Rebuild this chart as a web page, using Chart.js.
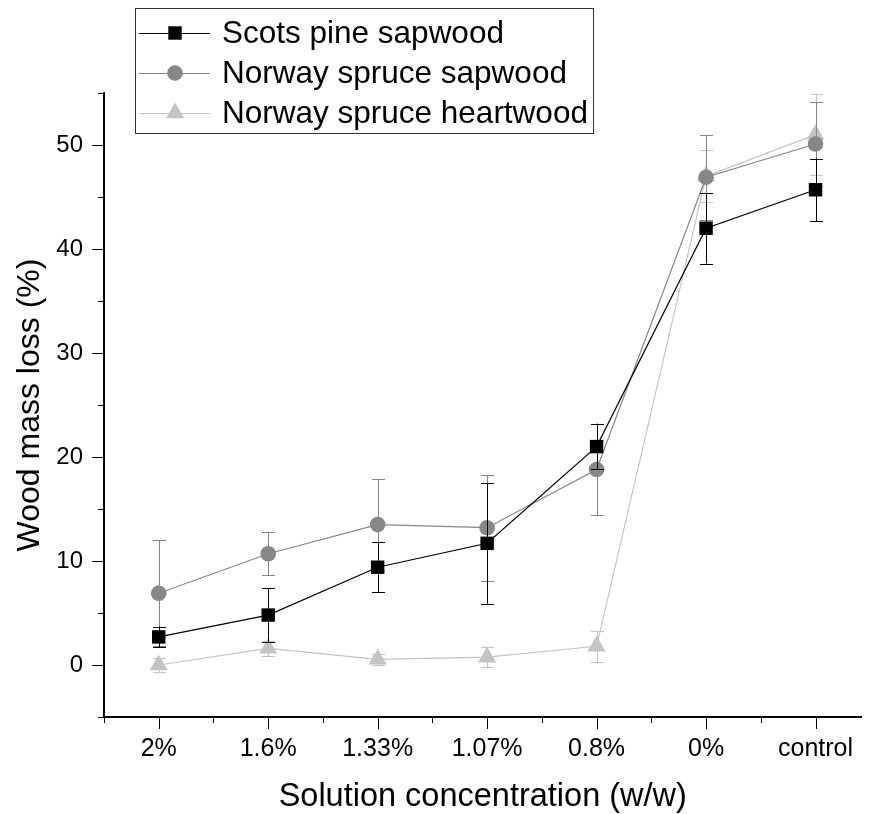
<!DOCTYPE html>
<html>
<head>
<meta charset="utf-8">
<title>Wood mass loss</title>
<script src="https://cdn.jsdelivr.net/npm/chart.js@4/dist/chart.umd.min.js"></script>
<style>
  html, body { margin:0; padding:0; background:#fff; }
  #wrap { width:872px; height:814px; }
</style>
</head>
<body>
<div id="wrap"><canvas id="massChart" width="872" height="814"></canvas></div>
<script>
// data
const categories = ['2%', '1.6%', '1.33%', '1.07%', '0.8%', '0%', 'control'];
const seriesNames = ['Scots pine sapwood', 'Norway spruce sapwood', 'Norway spruce heartwood'];
const scotsPine      = [2.7, 4.8, 9.4, 11.7, 21.0, 42.0, 45.7];
const scotsPineErr   = [1.0, 2.6, 2.4, 5.8, 2.2, 3.4, 3.0];
const spruceSap      = [6.9, 10.7, 13.5, 13.2, 18.8, 46.9, 50.1];
const spruceSapErr   = [5.1, 2.05, 4.35, 5.1, 4.4, 4.1, 4.0];
const spruceHeart    = [0.0, 1.6, 0.55, 0.75, 1.8, 47.0, 51.0];
const spruceHeartErr = [0.7, 0.75, 0.55, 0.95, 1.5, 2.5, 3.9];
const yTicks = [0, 10, 20, 30, 40, 50];

(() => {
  const FONT = "'Liberation Sans', Arial, sans-serif";
  const ctx = document.getElementById('massChart').getContext('2d');

  // series styles: black squares, grey circles, light grey triangles
  const styles = [
    { color: '#000000', point: 'rect',     radius: 9.5 },
    { color: '#878787', point: 'circle',   radius: 7.8 },
    { color: '#c4c4c4', point: 'triangle', radius: 10.5 }
  ];
  const values = [scotsPine, spruceSap, spruceHeart];
  const errors = [scotsPineErr, spruceSapErr, spruceHeartErr];

  const datasets = values.map((vals, k) => ({
    label: seriesNames[k],
    data: vals.map((v, i) => ({ x: i, y: v })),
    errors: errors[k],
    borderColor: styles[k].color,
    backgroundColor: styles[k].color,
    borderWidth: 1.2,
    pointStyle: styles[k].point,
    pointRadius: styles[k].radius,
    pointBorderWidth: 0,
    pointBackgroundColor: styles[k].color,
    tension: 0,
    clip: false
  }));

  // error bars, drawn under each series' own markers
  const errorBars = {
    id: 'errorBars',
    beforeDatasetDraw(chart, args) {
      const ds = chart.data.datasets[args.index];
      const xs = chart.scales.x, ys = chart.scales.y;
      const c = chart.ctx;
      c.save();
      c.strokeStyle = ds.borderColor;
      c.lineWidth = 1;
      ds.data.forEach((p, i) => {
        const e = ds.errors[i];
        const x = Math.round(xs.getPixelForValue(p.x)) + 0.5;
        const y1 = ys.getPixelForValue(p.y + e);
        const y2 = ys.getPixelForValue(p.y - e);
        c.beginPath();
        c.moveTo(x, y1); c.lineTo(x, y2);
        c.moveTo(x - 6.5, Math.round(y1) + 0.5); c.lineTo(x + 6.5, Math.round(y1) + 0.5);
        c.moveTo(x - 6.5, Math.round(y2) + 0.5); c.lineTo(x + 6.5, Math.round(y2) + 0.5);
        c.stroke();
      });
      c.restore();
    }
  };

  // outward tick marks, major and minor
  const tickMarks = {
    id: 'tickMarks',
    afterDraw(chart) {
      const xs = chart.scales.x, ys = chart.scales.y;
      const area = chart.chartArea;
      const c = chart.ctx;
      c.save();
      c.strokeStyle = '#000';
      c.lineWidth = 1;
      c.beginPath();
      for (let v = -5; v <= 55; v += 5) {
        const y = Math.round(ys.getPixelForValue(v)) + 0.5;
        const len = v % 10 === 0 ? 12 : 6;
        c.moveTo(area.left - len, y); c.lineTo(area.left, y);
      }
      for (let v = -0.5; v <= xs.max; v += 0.5) {
        const x = Math.round(xs.getPixelForValue(v)) + 0.5;
        const len = Number.isInteger(v) ? 12 : 6;
        c.moveTo(x, area.bottom); c.lineTo(x, area.bottom + len);
      }
      c.stroke();
      c.restore();
    }
  };

  // boxed legend at the top left, overlapping the plot
  const boxLegend = {
    id: 'boxLegend',
    afterDraw(chart) {
      const c = chart.ctx;
      c.save();
      c.strokeStyle = '#333';
      c.lineWidth = 1;
      c.strokeRect(135.5, 8.5, 458, 125);
      chart.data.datasets.forEach((ds, k) => {
        const y = 33 + k * 40;
        c.strokeStyle = ds.borderColor;
        c.lineWidth = 1;
        c.beginPath();
        c.moveTo(139, y + 0.5); c.lineTo(210, y + 0.5);
        c.stroke();
        c.fillStyle = ds.pointBackgroundColor;
        Chart.helpers.drawPoint(c, { pointStyle: ds.pointStyle, radius: ds.pointRadius, rotation: 0, borderWidth: 0 }, 175, y);
        c.fillStyle = '#000';
        c.font = '31.5px ' + FONT;
        c.textBaseline = 'middle';
        c.textAlign = 'left';
        c.fillText(ds.label, 222, y + 1);
      });
      c.restore();
    }
  };

  new Chart(ctx, {
    type: 'line',
    data: { datasets },
    options: {
      animation: false,
      responsive: false,
      devicePixelRatio: 1,
      layout: { padding: { top: 93, right: 2, left: 0, bottom: 0 } },
      plugins: { legend: { display: false }, tooltip: { enabled: false } },
      scales: {
        x: {
          type: 'linear',
          min: -0.5,
          max: 6.42,
          afterBuildTicks: scale => { scale.ticks = categories.map((c, i) => ({ value: i })); },
          afterFit: scale => { scale.height = 97; },
          grid: { display: false, drawTicks: false },
          border: { display: true, color: '#000', width: 2 },
          ticks: {
            autoSkip: false, maxRotation: 0, padding: 17, color: '#000',
            font: { family: FONT, size: 25 },
            callback: v => categories[v]
          },
          title: {
            display: true, text: 'Solution concentration (w/w)', color: '#000',
            font: { family: FONT, size: 32.5, lineHeight: 1.05 }, padding: 0
          }
        },
        y: {
          min: -5,
          max: 55,
          afterBuildTicks: scale => { scale.ticks = yTicks.map(v => ({ value: v })); },
          afterFit: scale => { scale.width = 104; },
          grid: { display: false, drawTicks: false },
          border: { display: true, color: '#000', width: 2 },
          ticks: { padding: 21, color: '#000', font: { family: FONT, size: 24 } },
          title: {
            display: true, text: 'Wood mass loss (%)', color: '#000',
            font: { family: FONT, size: 32, lineHeight: 1.05 }, padding: { top: 13, bottom: 0 }
          }
        }
      }
    },
    plugins: [errorBars, tickMarks, boxLegend]
  });
})();
</script>
</body>
</html>
